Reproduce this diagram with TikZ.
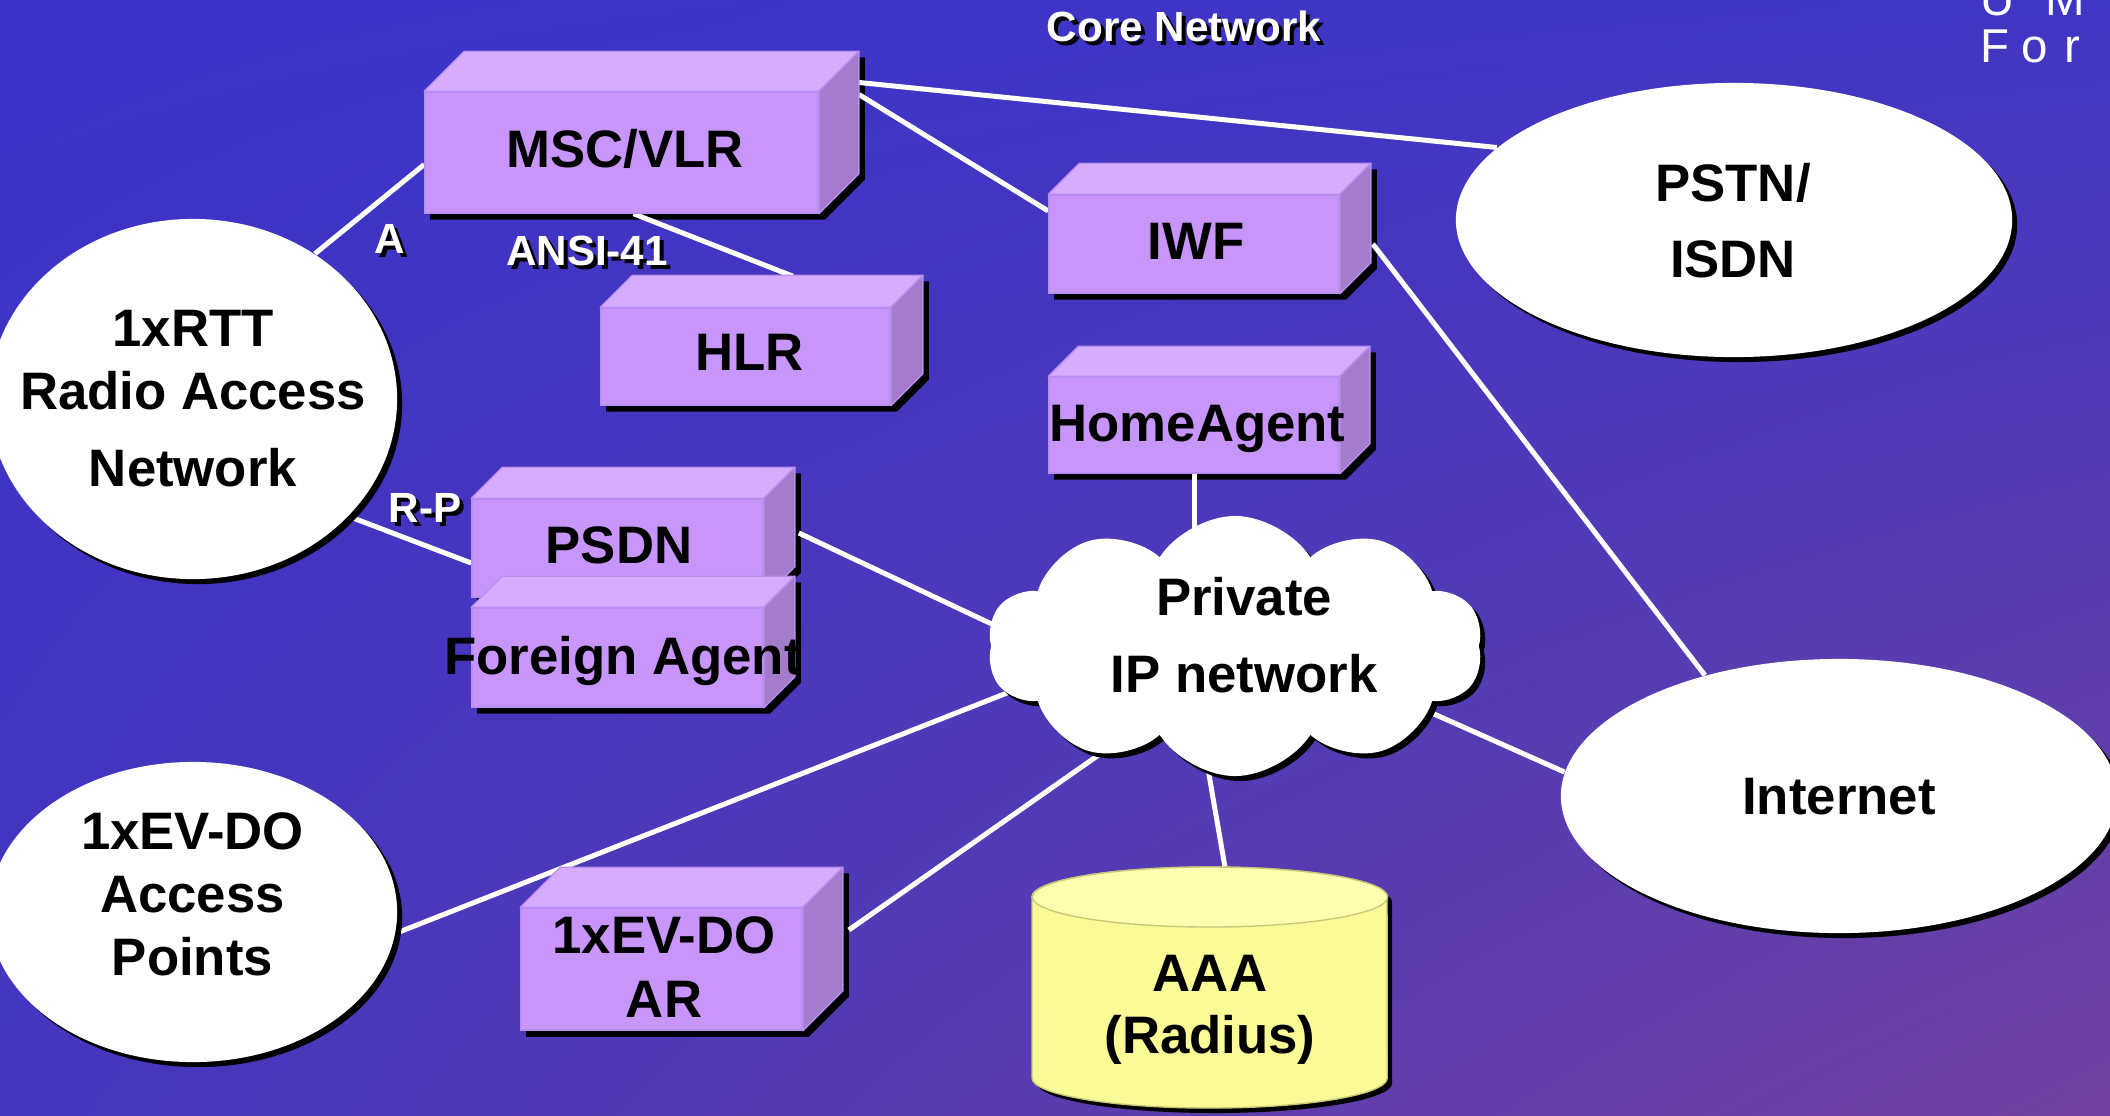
\documentclass[tikz,border=0pt]{standalone}
\usepackage{fontspec}
\setmainfont{Liberation Sans}
\usetikzlibrary{shapes.geometric,shapes.symbols,shadows,shadings,calc}

\pgfdeclarelayer{backdrop}
\pgfdeclarelayer{shadowlayer}
\pgfdeclarelayer{linelayer}
\pgfsetlayers{backdrop,shadowlayer,linelayer,main}

\definecolor{bgUL}{HTML}{3A32C8}
\definecolor{bgUR}{HTML}{4036C4}
\definecolor{bgLL}{HTML}{4436BE}
\definecolor{bgLR}{HTML}{7042A0}
\definecolor{cubeFront}{HTML}{C896FA}
\definecolor{cubeTop}{HTML}{D6ACFF}
\definecolor{cubeSide}{HTML}{A47CCC}
\definecolor{cubeEdge}{HTML}{B88EF0}
\definecolor{dbBody}{HTML}{FAFA96}
\definecolor{dbTop}{HTML}{FFFFB0}
\definecolor{dbEdge}{HTML}{C8C878}

% white lettering with a black offset copy behind it
\newcommand\shadowtext[1]{\makebox[0pt][l]{\hspace{0.04cm}\raisebox{-0.04cm}{\color{black}#1}}{\color{white}#1}}

% 3-D box: name, centre, width, height, depth (px), label position, label
\newcommand\cuboid[7]{%
  \node[cubefront, minimum width=#3, minimum height=#4] (#1) at (#2) {};
  \begin{pgfonlayer}{shadowlayer}
    \fill[black] ([shift={(6,6)}]#1.south west) -- ([shift={(6,6)}]#1.south east)
      -- ([shift={(6+#5,6-#5)}]#1.south east) -- ([shift={(6+#5,6-#5)}]#1.north east)
      -- ([shift={(6+#5,6-#5)}]#1.north west) -- ([shift={(6,6)}]#1.north west) -- cycle;
  \end{pgfonlayer}
  \filldraw[cubetop] (#1.north west) -- ([shift={(#5,-#5)}]#1.north west)
      -- ([shift={(#5,-#5)}]#1.north east) -- (#1.north east) -- cycle;
  \filldraw[cubeside] (#1.north east) -- ([shift={(#5,-#5)}]#1.north east)
      -- ([shift={(#5,-#5)}]#1.south east) -- (#1.south east) -- cycle;
  \node[bigtext] (#1-t) at (#6) {#7};
}

\tikzset{
  link/.style={draw=white, line width=0.05cm},
  cubefront/.style={rectangle, fill=cubeFront, draw=cubeEdge, line width=0.4pt, inner sep=0},
  cubetop/.style={fill=cubeTop, draw=cubeEdge, line width=0.4pt, line join=round},
  cubeside/.style={fill=cubeSide, draw=cubeEdge, line width=0.4pt, line join=round},
  bigtext/.style={font=\fontsize{15}{17.9}\selectfont\bfseries, inner sep=0, align=center, text=black},
  tag/.style={font=\fontsize{12}{14}\selectfont\bfseries, inner sep=0},
  blackshadow/.style={drop shadow={shadow xshift=0.05cm, shadow yshift=-0.05cm, opacity=1, fill=black}},
  oval/.style={ellipse, fill=white, inner sep=0, blackshadow},
  puff/.style={cloud, cloud puffs=10, cloud puff arc=115, aspect=1.9, fill=white,
               inner sep=0, blackshadow},
}

\begin{document}
\begin{tikzpicture}[x=0.01cm, y=-0.01cm]
\useasboundingbox (0,0) rectangle (2110,1115);
\clip (0,0) rectangle (2110,1115);

\begin{pgfonlayer}{backdrop}
  \shade[upper left=bgUL, upper right=bgUR, lower left=bgLL, lower right=bgLR]
    (0,0) rectangle (2110,1115);
\end{pgfonlayer}

% access networks and external networks
\node[oval, minimum width=4.08cm, minimum height=3.6cm] (rtt) at (193,399) {};
\node[bigtext] (rtt-t) at (193,399) {1xRTT\\Radio Access\\[0.14cm]Network};

\node[oval, minimum width=4.08cm, minimum height=3.0cm] (evdo) at (193,912) {};
\node[bigtext] (evdo-t) at (192.5,894.5) {1xEV-DO\\Access\\Points};

\node[oval, minimum width=5.56cm, minimum height=2.74cm] (pstn) at (1734,220) {};
\node[bigtext] (pstn-t) at (1733,220.5) {PSTN/\\[0.13cm]ISDN};

\node[oval, minimum width=5.56cm, minimum height=2.74cm] (inet) at (1839,796) {};
\node[bigtext] (inet-t) at (1839,797) {Internet};

% private IP cloud
\node[puff, minimum width=4.95cm, minimum height=2.6cm] (cloud) at (1235,646) {};
\node[bigtext] (cloud-t) at (1244,635) {Private\\[0.14cm]IP network};

% core network elements
\cuboid{msc}{621.5,152.5}{3.93cm}{1.21cm}{40}{625,149}{MSC/VLR}
\cuboid{hlr}{745.5,356.5}{2.89cm}{0.97cm}{32}{749.5,352}{HLR}
\cuboid{iwf}{1194,244}{2.90cm}{0.98cm}{31}{1196,241.5}{IWF}
\cuboid{ha}{1194,425}{2.90cm}{0.96cm}{30}{1197.5,429}{HomeAgent}
\cuboid{psdn}{617.5,548}{2.91cm}{0.98cm}{31}{619,545}{PSDN}
\cuboid{fa}{617.5,657.5}{2.91cm}{0.99cm}{31}{623,660.5}{Foreign Agent}
\cuboid{ar}{661.5,969}{2.81cm}{1.22cm}{40}{664,967}{1xEV-DO\\[0.01cm]AR}

% AAA server drawn as a database cylinder
\node[inner sep=0, minimum width=3.55cm, minimum height=2.4cm] (aaa) at (1210,988) {};
\begin{pgfonlayer}{shadowlayer}
  \fill[black] (1037,902) -- (1037,1083)
    arc[start angle=180, end angle=360, x radius=1.775cm, y radius=0.3cm]
    -- (1392,902)
    arc[start angle=0, end angle=180, x radius=1.775cm, y radius=0.3cm] -- cycle;
\end{pgfonlayer}
\filldraw[fill=dbBody, draw=dbEdge, line width=0.4pt] (1032,897) -- (1032,1078)
  arc[start angle=180, end angle=360, x radius=1.775cm, y radius=0.3cm]
  -- (1387,897)
  arc[start angle=0, end angle=180, x radius=1.775cm, y radius=0.3cm] -- cycle;
\filldraw[fill=dbTop, draw=dbEdge, line width=0.4pt] (1210,897) ellipse[x radius=1.775cm, y radius=0.3cm];
\node[bigtext] (aaa-t) at (1210,1010) {AAA\\[-0.01cm](Radius)};

% connectors
\begin{pgfonlayer}{linelayer}
  \draw[link] (rtt.50) -- ([yshift=-0.12cm]msc.west);
  \draw[link] ([xshift=0.12cm]msc.south) -- ([xshift=0.475cm,yshift=0.31cm]hlr.north);
  \draw[link] ([xshift=0.4cm,yshift=0.7cm]msc.east) -- (pstn.163);
  \draw[link] ([xshift=0.4cm,yshift=0.58cm]msc.east) -- ([yshift=0.33cm]iwf.west);
  \draw[link] ([xshift=0.33cm]iwf.east) -- (inet.138);
  \draw[link] (ha.south) -- (ha.south |- cloud.center);
  \draw[link] (rtt.-37) -- ([yshift=-0.15cm]psdn.west);
  \draw[link] ([xshift=0.35cm,yshift=0.15cm]psdn.east) -- ([xshift=-2.05cm,yshift=0.04cm]cloud.center);
  \draw[link] (evdo.-6) -- ([xshift=-1.95cm,yshift=-0.34cm]cloud.center);
  \draw[link] ([xshift=0.46cm,yshift=0.39cm]ar.east) -- ([xshift=-1.05cm,yshift=-0.87cm]cloud.center);
  \draw[link] ([xshift=-0.32cm,yshift=-0.94cm]cloud.center) -- ([xshift=0.15cm]aaa.north);
  \draw[link] ([xshift=1.45cm,yshift=-0.44cm]cloud.center) -- (inet.175);
\end{pgfonlayer}

% interface labels and title
\node[tag] (title) at (1184,28) {\shadowtext{Core Network}};
\node[tag] (ifa) at (390,241) {\shadowtext{A}};
\node[tag] (ansi) at (587,253) {\shadowtext{ANSI-41}};
\node[tag] (rp) at (425,510) {\shadowtext{R-P}};

% corner lettering
\node[anchor=base west, inner sep=0, text=white, font=\fontsize{13.5}{16}\selectfont] (corner1) at (1980,15) {U\hspace{0.3cm}M};
\node[anchor=base west, inner sep=0, text=white, font=\fontsize{13.5}{16}\selectfont] (corner2) at (1980,62) {F\hspace{0.12cm}o\hspace{0.16cm}r};
\end{tikzpicture}
\end{document}
